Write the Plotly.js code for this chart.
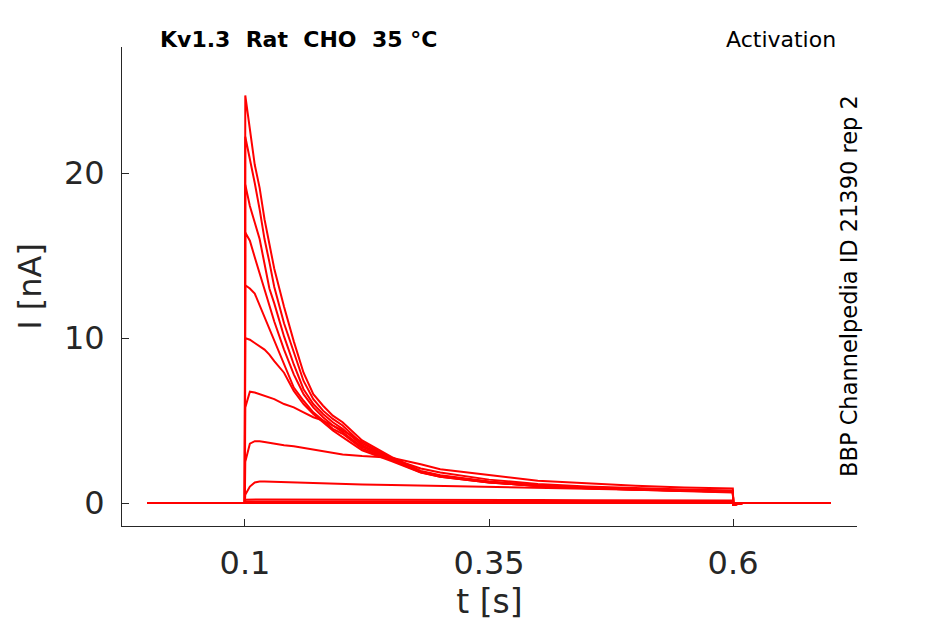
<!DOCTYPE html>
<html>
<head>
<meta charset="utf-8">
<script src="https://cdn.plot.ly/plotly-3.0.1.min.js"></script>
<style>html,body{margin:0;padding:0;background:#fff;}#chart{width:945px;height:624px;}</style>
</head>
<body>
<div id="chart"></div>
<script>
// time points [s]
var t = [0, 0.0998, 0.1003, 0.105, 0.11, 0.115, 0.12, 0.125, 0.13, 0.14, 0.15, 0.16, 0.17, 0.18, 0.19, 0.2, 0.22, 0.25, 0.28, 0.3, 0.35, 0.4, 0.45, 0.5, 0.55, 0.5998, 0.6003, 0.61, 0.7];
// current traces [nA]
var i1  = [0, 0, 24.7, 22.5, 20.5, 19.1, 17.2, 15.7, 14.2, 11.9, 9.8, 7.9, 6.6, 5.9, 5.3, 4.9, 3.8, 2.8, 1.95, 1.68, 1.3, 1.08, 0.94, 0.85, 0.78, 0.72, -0.1, 0, 0];
var i2  = [0, 0, 22.2, 20.9, 19.4, 17.8, 16.0, 14.6, 13.1, 10.9, 9.1, 7.4, 6.3, 5.6, 5.1, 4.7, 3.6, 2.75, 1.92, 1.66, 1.28, 1.06, 0.92, 0.84, 0.76, 0.7, -0.1, 0, 0];
var i3  = [0, 0, 19.3, 18.0, 17.0, 16.0, 14.5, 13.0, 12.1, 10.1, 8.4, 6.9, 6.0, 5.4, 4.9, 4.5, 3.5, 2.7, 1.9, 1.64, 1.27, 1.05, 0.92, 0.83, 0.75, 0.7, -0.1, 0, 0];
var i4  = [0, 0, 16.4, 15.9, 14.9, 13.9, 13.0, 12.0, 11.0, 9.3, 7.8, 6.6, 5.8, 5.2, 4.7, 4.3, 3.4, 2.65, 1.88, 1.62, 1.26, 1.04, 0.9, 0.82, 0.75, 0.68, -0.1, 0, 0];
var i5  = [0, 0, 13.2, 13.0, 12.7, 12.0, 11.3, 10.6, 9.8, 8.5, 7.0, 6.2, 5.5, 5.0, 4.5, 4.2, 3.3, 2.6, 1.86, 1.6, 1.25, 1.03, 0.9, 0.82, 0.75, 0.68, -0.1, 0, 0];
var i6  = [0, 0, 10.0, 9.9, 9.7, 9.5, 9.3, 9.0, 8.6, 7.9, 6.8, 6.0, 5.4, 4.9, 4.4, 4.0, 3.2, 2.55, 1.85, 1.6, 1.25, 1.03, 0.9, 0.81, 0.74, 0.67, -0.1, 0, 0];
var i7  = [0, 0, 5.8, 6.75, 6.7, 6.6, 6.5, 6.4, 6.3, 6.0, 5.8, 5.5, 5.2, 5.0, 4.7, 4.4, 3.7, 2.7, 2.1, 1.85, 1.42, 1.15, 1.0, 0.9, 0.82, 0.76, -0.1, 0, 0];
var i8  = [0, 0, 2.5, 3.6, 3.75, 3.75, 3.7, 3.65, 3.6, 3.5, 3.45, 3.35, 3.25, 3.15, 3.05, 2.95, 2.85, 2.75, 2.35, 2.05, 1.7, 1.35, 1.2, 1.05, 0.95, 0.88, -0.1, 0, 0];
var i9  = [0, 0, 0.5, 1.0, 1.25, 1.3, 1.3, 1.29, 1.28, 1.26, 1.24, 1.22, 1.2, 1.19, 1.17, 1.15, 1.13, 1.1, 1.07, 1.05, 1.0, 0.92, 0.86, 0.8, 0.72, 0.64, -0.1, 0, 0];
var i10 = [0, 0, 0.2, 0.22, 0.22, 0.22, 0.22, 0.22, 0.21, 0.21, 0.21, 0.21, 0.2, 0.2, 0.2, 0.2, 0.2, 0.19, 0.19, 0.19, 0.18, 0.18, 0.17, 0.17, 0.16, 0.16, -0.05, 0, 0];
var i11 = [0, 0, 0.1, 0.1, 0.1, 0.1, 0.1, 0.1, 0.1, 0.1, 0.1, 0.1, 0.1, 0.1, 0.1, 0.1, 0.1, 0.1, 0.1, 0.1, 0.1, 0.1, 0.1, 0.1, 0.1, 0.1, -0.03, 0, 0];
var i12 = [0, 0, 0.03, 0.03, 0.03, 0.03, 0.03, 0.03, 0.03, 0.03, 0.03, 0.03, 0.03, 0.03, 0.03, 0.03, 0.03, 0.03, 0.03, 0.03, 0.03, 0.03, 0.03, 0.03, 0.03, 0.03, 0, 0, 0];

var xTickVals = [0.1, 0.35, 0.6];
var xTickText = ['0.1', '0.35', '0.6'];
var yTickVals = [0, 10, 20];
var yTickText = ['0', '10', '20'];

var series = [i1, i2, i3, i4, i5, i6, i7, i8, i9, i10, i11, i12];
var data = series.map(function (s) {
  return {x: t, y: s, type: 'scatter', mode: 'lines',
          line: {color: '#ff0000', width: 2}, showlegend: false, hoverinfo: 'skip'};
});

var axisColor = '#262626';
var layout = {
  width: 945, height: 624,
  margin: {l: 122, r: 88, t: 47, b: 98},
  paper_bgcolor: '#ffffff', plot_bgcolor: '#ffffff',
  font: {family: 'DejaVu Sans', color: axisColor},
  showlegend: false,
  xaxis: {
    range: [-0.026, 0.727], showgrid: false, zeroline: false,
    showline: true, linecolor: axisColor, linewidth: 1,
    ticks: 'inside', ticklen: 7, tickcolor: axisColor, tickwidth: 1,
    tickvals: xTickVals, ticktext: xTickText,
    tickfont: {size: 32, color: axisColor, family: 'DejaVu Sans'},
    ticklabelstandoff: 9,
    title: {text: 't [s]', font: {size: 33, color: axisColor, family: 'DejaVu Sans'}, standoff: 6}
  },
  yaxis: {
    range: [-1.39, 27.64], showgrid: false, zeroline: false,
    showline: true, linecolor: axisColor, linewidth: 1,
    ticks: 'inside', ticklen: 7, tickcolor: axisColor, tickwidth: 1,
    tickvals: yTickVals, ticktext: yTickText,
    tickfont: {size: 32, color: axisColor, family: 'DejaVu Sans'},
    ticklabelstandoff: 10,
    title: {text: 'I [nA]', font: {size: 32, color: axisColor, family: 'DejaVu Sans'}, standoff: 12}
  },
  annotations: [
    {text: '<b>Kv1.3\u00a0\u00a0Rat\u00a0\u00a0CHO\u00a0\u00a035 \u00b0C</b>', xref: 'paper', yref: 'paper',
     x: 0.049, y: 1.0157, xanchor: 'left', yanchor: 'middle', showarrow: false,
     font: {size: 22, color: '#000000', family: 'DejaVu Sans'}},
    {text: 'Activation', xref: 'paper', yref: 'paper',
     x: 0.974, y: 1.0157, xanchor: 'right', yanchor: 'middle', showarrow: false,
     font: {size: 22, color: '#000000', family: 'DejaVu Sans'}},
    {text: 'BBP Channelpedia ID 21390 rep 2', xref: 'paper', yref: 'paper',
     x: 0.989, y: 0.501, xanchor: 'center', yanchor: 'middle', showarrow: false, textangle: -90,
     font: {size: 22.5, color: '#000000', family: 'DejaVu Sans'}}
  ]
};

Plotly.newPlot('chart', data, layout, {staticPlot: true, displayModeBar: false});
</script>
</body>
</html>
